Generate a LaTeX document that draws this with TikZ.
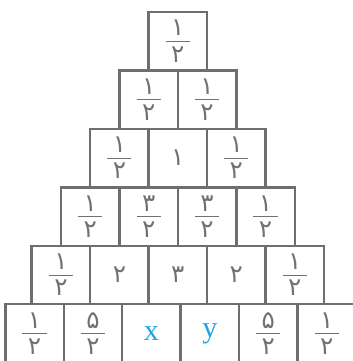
\documentclass[tikz,border=0pt]{standalone}
\usepackage{fontspec}
\newfontfamily\fafont[Script=Arabic]{DejaVu Sans}
\newfontfamily\latinfont{Liberation Serif}
\definecolor{boxgray}{HTML}{6D6E71}
\definecolor{digitgray}{HTML}{707174}
\definecolor{varblue}{HTML}{1BA6E0}
\usetikzlibrary{positioning}
% stacked fraction with a fixed bar
\newcommand{\fr}[2]{\vbox{\offinterlineskip\halign{\hfil##\hfil\cr
  #1\cr\noalign{\kern3.5pt}\rule{0.62cm}{0.6pt}\cr\noalign{\kern3.5pt}#2\cr}}}
\tikzset{
  cell/.style={draw=boxgray,line width=1.8pt,minimum width=1.5cm,
    minimum height=1.5cm,inner sep=0pt,text=digitgray,
    font=\fontsize{18}{22}\selectfont\fafont},
  var/.style={text=varblue,font=\fontsize{22}{26}\selectfont\latinfont}
}
\begin{document}
\begin{tikzpicture}
  \clip (0,0) rectangle (9.058,-9.264);

  % Row 1
  \node[cell] (c11) at (4.564,-1.057) {\fr{۱}{۲}};

  % Row 2
  \node[cell] (c21) at (3.814,-2.557) {\fr{۱}{۲}};
  \node[cell] (c22) at (5.314,-2.557) {\fr{۱}{۲}};

  % Row 3
  \node[cell] (c31) at (3.064,-4.057) {\fr{۱}{۲}};
  \node[cell] (c32) at (4.564,-4.057) {۱};
  \node[cell] (c33) at (6.064,-4.057) {\fr{۱}{۲}};

  % Row 4
  \node[cell] (c41) at (2.314,-5.557) {\fr{۱}{۲}};
  \node[cell] (c42) at (3.814,-5.557) {\fr{۳}{۲}};
  \node[cell] (c43) at (5.314,-5.557) {\fr{۳}{۲}};
  \node[cell] (c44) at (6.814,-5.557) {\fr{۱}{۲}};

  % Row 5
  \node[cell] (c51) at (1.564,-7.057) {\fr{۱}{۲}};
  \node[cell] (c52) at (3.064,-7.057) {۲};
  \node[cell] (c53) at (4.564,-7.057) {۳};
  \node[cell] (c54) at (6.064,-7.057) {۲};
  \node[cell] (c55) at (7.564,-7.057) {\fr{۱}{۲}};

  % Row 6 (bottom, runs off the right edge)
  \node[cell] (c61) at (0.886,-8.557) {\fr{۱}{۲}};
  \node[cell] (c62) at (2.386,-8.557) {\fr{۵}{۲}};
  \node[cell,var] (c63) at (3.886,-8.557) {x};
  \node[cell,var] (c64) at (5.386,-8.557) {y};
  \node[cell] (c65) at (6.886,-8.557) {\fr{۵}{۲}};
  \node[cell] (c66) at (8.386,-8.557) {\fr{۱}{۲}};
\end{tikzpicture}
\end{document}
